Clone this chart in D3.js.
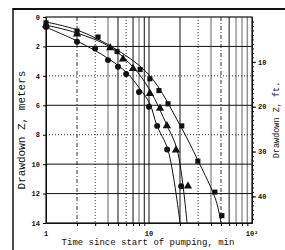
<!DOCTYPE html>
<html>
<head>
<meta charset="utf-8">
<script src="https://cdn.jsdelivr.net/npm/d3@7"></script>
<style>
  body { margin: 0; background: #fff; }
  svg { display: block; }
  text { font-family: "Liberation Mono", "DejaVu Sans Mono", monospace; fill: #111; }
</style>
</head>
<body>
<div id="chart"></div>
<script>
// observed drawdown (m) against time (min), three wells
var circleT = [1, 2, 3, 4, 5, 6, 8, 10, 12, 15, 20.5];
var circleZ = [0.68, 1.68, 2.14, 2.93, 3.38, 3.88, 5.1, 6.1, 7.4, 9.0, 11.5];

var triT = [1, 2, 4.2, 5.6, 7, 10.2, 12.8, 14.9, 18.3, 23.9];
var triZ = [0.55, 1.16, 2.1, 2.86, 3.5, 5.2, 6.2, 7.4, 9.05, 11.5];

var squareT = [1, 2, 3.2, 4.9, 8.2, 10.2, 12.5, 15.3, 20.8, 29.8, 43.6, 51];
var squareZ = [0.4, 0.95, 1.36, 2.35, 3.57, 4.2, 5.0, 5.9, 7.4, 9.8, 11.9, 13.5];

// fitted curves
var curveAT = [1, 2, 4.1, 6.1, 8.2, 10.2, 11.9, 15.3, 20];
var curveAZ = [0.7, 1.63, 2.86, 3.8, 4.9, 5.9, 7.35, 9.05, 14];
var curveBT = [1, 2, 4.2, 7, 10.2, 14.9, 18.8, 23.4];
var curveBZ = [0.55, 1.09, 2.04, 3.4, 4.97, 7.35, 9.05, 14];
var curveCT = [1, 2, 4.9, 10.2, 20, 29.8, 44.6, 50];
var curveCZ = [0.34, 0.88, 2.24, 4.0, 7.35, 9.73, 12.45, 14];

var meterTicks = [0, 2, 4, 6, 8, 10, 12, 14];
var feetTicks = [10, 20, 30, 40];
var timeLabels = [{t: 1, s: "1"}, {t: 10, s: "10"}, {t: 100, s: "10\u00B2"}];

var width = 285;
var height = 250;

var svg = d3.select("#chart").append("svg")
  .attr("width", width)
  .attr("height", height);

/* Scale */
var x = d3.scaleLog().domain([1, 100]).range([46, 252]);
var y = d3.scaleLinear().domain([0, 14]).range([17, 223]);
var yFt = d3.scaleLinear().domain([0, 14 / 0.3048]).range([17, 223]);

/* outer frame of the scanned figure */
svg.append("line").attr("x1", 13).attr("x2", 285).attr("y1", 9).attr("y2", 9)
  .attr("stroke", "#111").attr("stroke-width", 2);
svg.append("line").attr("x1", 13).attr("x2", 13).attr("y1", 8).attr("y2", 250)
  .attr("stroke", "#111").attr("stroke-width", 1.5);

/* grid */
var minor = [];
[1, 10].forEach(function(d) {
  for (var k = 2; k <= 9; k++) minor.push(d * k);
});
minor.push(10);
var vStyle = {
  2: "dash", 3: "dot", 4: "gray", 5: "solid", 6: "dot", 7: "solid", 8: "gray", 9: "solid", 10: "solid",
  20: "solid", 30: "dot", 40: "gray", 50: "dash", 60: "solid", 70: "gray", 80: "gray", 90: "gray"
};
var styles = {
  solid: {c: "#111", w: 1, a: null},
  gray: {c: "#888", w: 1.3, a: null},
  dot: {c: "#333", w: 1, a: "1,2"},
  dash: {c: "#333", w: 1, a: "4,2,1,2"}
};
var grid = svg.append("g").attr("class", "grid");
minor.forEach(function(t) {
  var st = styles[vStyle[t]];
  grid.append("line")
    .attr("x1", x(t)).attr("x2", x(t)).attr("y1", y(0)).attr("y2", y(14))
    .attr("stroke", st.c).attr("stroke-width", st.w)
    .attr("stroke-dasharray", st.a);
});
var hStyle = {2: "solid", 4: "dot", 6: "solid", 8: "dot", 10: "solid", 12: "solid"};
[2, 4, 6, 8, 10, 12].forEach(function(m) {
  var st = styles[hStyle[m]];
  grid.append("line")
    .attr("x1", x(1)).attr("x2", x(100)).attr("y1", y(m)).attr("y2", y(m))
    .attr("stroke", st.c).attr("stroke-width", st.w)
    .attr("stroke-dasharray", st.a);
});

/* plot frame */
svg.append("rect")
  .attr("x", x(1)).attr("y", y(0))
  .attr("width", x(100) - x(1)).attr("height", y(14) - y(0))
  .attr("fill", "none").attr("stroke", "#111").attr("stroke-width", 1.2);

/* Axes */
var leftAxis = d3.axisLeft(y).tickValues(meterTicks).tickSizeInner(3).tickSizeOuter(0).tickPadding(3);
var gl = svg.append("g").attr("transform", "translate(" + x(1) + ",0)").call(leftAxis);
gl.selectAll("text").style("font-size", "7px").style("font-weight", "bold");

var bottomAxis = d3.axisBottom(x).tickValues(minor.filter(function(t) { return t !== 10; }))
  .tickSizeInner(3).tickSizeOuter(0).tickFormat("");
svg.append("g").attr("transform", "translate(0," + y(14) + ")").call(bottomAxis);

svg.append("g").selectAll("text")
  .data(timeLabels).enter()
  .append("text")
  .attr("x", d => x(d.t))
  .attr("y", 236)
  .attr("text-anchor", "middle")
  .style("font-size", "7px")
  .style("font-weight", "bold")
  .text(d => d.s);

var ftMinor = d3.range(1, 46);
var rightAxis = d3.axisRight(yFt).tickValues(ftMinor)
  .tickSizeInner(2).tickSizeOuter(0).tickFormat("");
svg.append("g").attr("transform", "translate(" + x(100) + ",0)").call(rightAxis);
var rightMajor = d3.axisRight(yFt).tickValues(feetTicks).tickSizeInner(4).tickSizeOuter(0).tickPadding(2);
var gr = svg.append("g").attr("transform", "translate(" + x(100) + ",0)").call(rightMajor);
gr.selectAll("text").style("font-size", "7px").style("font-weight", "bold");
svg.selectAll(".domain").attr("stroke", "#111");

/* curves */
var line = d3.line()
  .x(d => x(d[0]))
  .y(d => y(d[1]))
  .curve(d3.curveCatmullRom);
[[curveAT, curveAZ], [curveBT, curveBZ], [curveCT, curveCZ]].forEach(function(c) {
  svg.append("path")
    .attr("d", line(c[0].map((t, i) => [t, c[1][i]])))
    .attr("fill", "none")
    .attr("stroke", "#111")
    .attr("stroke-width", 1);
});

/* markers */
var sets = [
  {t: circleT, z: circleZ, type: d3.symbolCircle, size: 28},
  {t: triT, z: triZ, type: d3.symbolTriangle, size: 30},
  {t: squareT, z: squareZ, type: d3.symbolSquare, size: 26}
];
sets.forEach(function(s) {
  svg.append("g").selectAll("path")
    .data(s.t.map((t, i) => [t, s.z[i]])).enter()
    .append("path")
    .attr("transform", d => "translate(" + x(d[0]) + "," + y(d[1]) + ")")
    .attr("d", d3.symbol().type(s.type).size(s.size))
    .attr("fill", "#111");
});

/* titles */
svg.append("text")
  .attr("x", 148).attr("y", 245)
  .attr("text-anchor", "middle")
  .style("font-size", "9px")
  .text("Time since start of pumping, min");

svg.append("text")
  .attr("transform", "translate(25,130) rotate(-90)")
  .attr("text-anchor", "middle")
  .style("font-size", "11px")
  .text("Drawdown Z, meters");

svg.append("text")
  .attr("transform", "translate(279,120) rotate(-90)")
  .attr("text-anchor", "middle")
  .style("font-size", "8.5px")
  .text("Drawdown Z, ft.");
</script>
</body>
</html>
